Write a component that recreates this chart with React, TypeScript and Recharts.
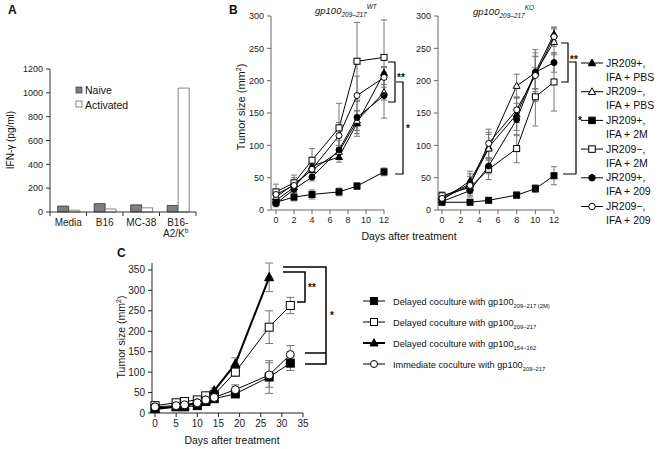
import React from 'react';
import { BarChart, Bar, XAxis, YAxis, LineChart, Line, ErrorBar } from 'recharts';

const FONT = '"Liberation Sans", Arial, Helvetica, sans-serif';

// panel A - IFN-gamma release
const cellTargets = ['Media', 'B16', 'MC-38', 'B16-A2/Kb'];
const naiveIfn = [50, 70, 60, 55];
const activatedIfn = [15, 25, 35, 1040];
const ifnTicks = [0, 200, 400, 600, 800, 1000, 1200];

// panel B - tumor growth, WT and KO hosts
const tumorTicksB = [0, 50, 100, 150, 200, 250, 300];
const dayTicksB = [0, 2, 4, 6, 8, 10, 12];
const wtDays = [0, 2, 4, 7, 9, 12];
const koDays = [0, 3, 5, 8, 10, 12];

const groupLabels = [
  ['JR209+,', 'IFA + PBS'],
  ['JR209\u2212,', 'IFA + PBS'],
  ['JR209+,', 'IFA + 2M'],
  ['JR209\u2212,', 'IFA + 2M'],
  ['JR209+,', 'IFA + 209'],
  ['JR209\u2212,', 'IFA + 209'],
];
const groupShapes = ['tri', 'tri', 'sq', 'sq', 'circ', 'circ'];
const groupFilled = [true, false, true, false, true, false];

const wtPbsPos = [15, 35, 68, 82, 134, 212];
const wtPbsPosErr = [6, 8, 10, 8, 20, 10];
const wtPbsNeg = [20, 40, 62, 90, 138, 182];
const wtPbsNegErr = [8, 10, 8, 10, 15, 12];
const wt2mPos = [12, 20, 24, 28, 37, 59];
const wt2mPosErr = [5, 6, 7, 6, 5, 6];
const wt2mNeg = [28, 42, 77, 127, 230, 236];
const wt2mNegErr = [12, 12, 18, 38, 60, 58];
const wt209Pos = [10, 32, 51, 93, 143, 177];
const wt209PosErr = [5, 8, 6, 15, 25, 35];
const wt209Neg = [24, 38, 63, 115, 177, 205];
const wt209NegErr = [8, 8, 10, 20, 30, 15];

const koPbsPos = [15, 45, 97, 148, 213, 272];
const koPbsPosErr = [5, 15, 20, 25, 30, 10];
const koPbsNeg = [20, 40, 95, 192, 212, 260];
const koPbsNegErr = [6, 12, 25, 18, 25, 20];
const ko2mPos = [12, 12, 15, 23, 33, 53];
const ko2mPosErr = [4, 4, 3, 5, 6, 14];
const ko2mNeg = [22, 35, 63, 95, 175, 198];
const ko2mNegErr = [6, 10, 16, 22, 45, 45];
const ko209Pos = [13, 30, 68, 140, 213, 228];
const ko209PosErr = [5, 8, 12, 25, 25, 15];
const ko209Neg = [18, 38, 103, 155, 208, 268];
const ko209NegErr = [5, 18, 22, 20, 40, 15];

// panel C - delayed vs immediate coculture
const cDays = [0, 5, 7, 10, 12, 14, 19, 27, 32];
const tumorTicksC = [0, 50, 100, 150, 200, 250, 300, 350];
const dayTicksC = [0, 5, 10, 15, 20, 25, 30, 35];
const delayed2m = [13, 15, 15, 18, 28, 35, 47, 88, 122];
const delayed2mErr = [4, 4, 4, 5, 5, 5, 10, 40, 18];
const delayed209 = [18, 25, 28, 32, 42, 45, 100, 210, 263];
const delayed209Err = [5, 5, 5, 5, 5, 5, 10, 40, 20];
const delayed154 = [10, 15, 17, 25, 30, 55, 120, 332, null];
const delayed154Err = [4, 4, 4, 5, 5, 6, 15, 35, null];
const immediate209 = [15, 18, 20, 25, 32, 38, 57, 93, 143];
const immediate209Err = [5, 5, 5, 5, 5, 5, 12, 30, 22];

const cLabels = [
  ['Delayed coculture with gp100', '209\u2013217 (2M)'],
  ['Delayed coculture with gp100', '209\u2013217'],
  ['Delayed coculture with gp100', '154\u2013162'],
  ['Immediate coculture with gp100', '209\u2013217'],
];

type Series = { values: (number | null)[]; errors: (number | null)[]; shape: string; filled: boolean; thick?: boolean };

const wtSeries: Series[] = [
  [wtPbsPos, wtPbsPosErr], [wtPbsNeg, wtPbsNegErr], [wt2mPos, wt2mPosErr],
  [wt2mNeg, wt2mNegErr], [wt209Pos, wt209PosErr], [wt209Neg, wt209NegErr],
].map(([v, e], i) => ({ values: v, errors: e, shape: groupShapes[i], filled: groupFilled[i] }));

const koSeries: Series[] = [
  [koPbsPos, koPbsPosErr], [koPbsNeg, koPbsNegErr], [ko2mPos, ko2mPosErr],
  [ko2mNeg, ko2mNegErr], [ko209Pos, ko209PosErr], [ko209Neg, ko209NegErr],
].map(([v, e], i) => ({ values: v, errors: e, shape: groupShapes[i], filled: groupFilled[i] }));

const cSeries: Series[] = [
  { values: delayed2m, errors: delayed2mErr, shape: 'sq', filled: true },
  { values: delayed209, errors: delayed209Err, shape: 'sq', filled: false },
  { values: delayed154, errors: delayed154Err, shape: 'tri', filled: true, thick: true },
  { values: immediate209, errors: immediate209Err, shape: 'circ', filled: false },
];

function buildRows(days: number[], series: Series[]) {
  return days.map((d, i) => {
    const row: any = { day: d };
    series.forEach((s, k) => {
      if (s.values[i] != null) {
        row['v' + k] = s.values[i];
        row['e' + k] = s.errors[i];
      }
    });
    return row;
  });
}

const barRows = cellTargets.map((t, i) => ({ target: t, naive: naiveIfn[i], activated: activatedIfn[i] }));

function Marker({ cx, cy, shape, filled, size }: any) {
  if (cx == null || cy == null) return null;
  const h = size / 2;
  const fill = filled ? '#000' : '#fff';
  if (shape === 'tri') {
    const pts = `${cx},${cy - h * 1.2} ${cx - h * 1.15},${cy + h * 0.85} ${cx + h * 1.15},${cy + h * 0.85}`;
    return <polygon points={pts} fill={fill} stroke="#000" strokeWidth={1} />;
  }
  if (shape === 'sq') {
    return <rect x={cx - h} y={cy - h} width={size} height={size} fill={fill} stroke="#000" strokeWidth={1} />;
  }
  return <circle cx={cx} cy={cy} r={h} fill={fill} stroke="#000" strokeWidth={1} />;
}

const TargetTick = (props: any) => {
  const { x, y, payload, index } = props;
  const half = payload && payload.offset ? payload.offset : 18.25;
  const v = String(payload.value);
  return (
    <g>
      <line x1={x - half} x2={x - half} y1={y} y2={y + 4} stroke="#333" />
      {index === cellTargets.length - 1 && <line x1={x + half} x2={x + half} y1={y} y2={y + 4} stroke="#333" />}
      {v === 'B16-A2/Kb' ? (
        <text x={x} y={y + 14} textAnchor="middle" fontSize={10} fill="#222" fontFamily={FONT}>
          <tspan x={x}>B16-</tspan>
          <tspan x={x - 2} dy={11}>A2/K</tspan>
          <tspan fontSize={6.5} dy={-4}>b</tspan>
        </text>
      ) : (
        <text x={x} y={y + 14} textAnchor="middle" fontSize={10} fill="#222" fontFamily={FONT}>{v}</text>
      )}
    </g>
  );
};

function TumorPanel(p: any) {
  const rows = buildRows(p.days, p.series);
  return (
    <div style={{ position: 'absolute', left: p.left, top: p.top }}>
      <LineChart width={p.width} height={p.height} data={rows} margin={p.margin}>
        <XAxis dataKey="day" type="number" domain={p.xDomain} ticks={p.xTicks} interval={0}
          padding={{ left: p.padLeft, right: 0 }} height={p.xHeight}
          axisLine={{ stroke: p.axisColor }} tickLine={{ stroke: p.axisColor }} tickSize={4} tickMargin={3}
          tick={{ fontSize: p.tickFont, fill: '#222', fontFamily: FONT }} />
        <YAxis type="number" domain={p.yDomain} ticks={p.yTicks} interval={0} width={p.yWidth}
          axisLine={{ stroke: p.axisColor }} tickLine={{ stroke: p.axisColor }} tickSize={4} tickMargin={3}
          tick={{ fontSize: p.tickFont, fill: '#222', fontFamily: FONT }} />
        {p.series.map((s: Series, k: number) => (
          <Line key={k} dataKey={'v' + k} stroke="#000" strokeWidth={s.thick ? 2 : 1}
            isAnimationActive={false} activeDot={false} connectNulls={false}
            dot={(d: any) => <Marker key={'m' + k + '-' + d.index} cx={d.cx} cy={d.cy} shape={s.shape} filled={s.filled} size={p.markerSize} />}>
            <ErrorBar dataKey={'e' + k} width={p.errWidth} stroke={p.errColor} strokeWidth={1} direction="y" />
          </Line>
        ))}
      </LineChart>
    </div>
  );
}

function LegendMark({ x, y, shape, filled, thick, size }: any) {
  return (
    <g>
      <line x1={x - 11} x2={x + 11} y1={y} y2={y} stroke="#000" strokeWidth={thick ? 2 : 1} />
      <Marker cx={x} cy={y} shape={shape} filled={filled} size={size} />
    </g>
  );
}

function Overlay() {
  const t = { fontFamily: FONT, fill: '#111' } as any;
  return (
    <svg width={665} height={449} style={{ position: 'absolute', left: 0, top: 0, pointerEvents: 'none' }}>
      {/* panel letters */}
      <text x={8} y={14} fontSize={12} fontWeight="bold" {...t}>A</text>
      <text x={229} y={14} fontSize={12} fontWeight="bold" {...t}>B</text>
      <text x={117} y={257} fontSize={12} fontWeight="bold" {...t}>C</text>

      {/* panel A */}
      <text transform="translate(14,140) rotate(-90)" textAnchor="middle" fontSize={10} {...t}>IFN-γ (pg/ml)</text>
      <rect x={76} y={87} width={6} height={6} fill="#7f7f7f" stroke="#333" strokeWidth={0.7} />
      <text x={85} y={94} fontSize={10.5} {...t}>Naive</text>
      <rect x={76} y={101} width={6} height={6} fill="#fff" stroke="#555" strokeWidth={0.7} />
      <text x={85} y={109} fontSize={10.5} {...t}>Activated</text>

      {/* panel B titles and axis labels */}
      <text x={315} y={14} fontSize={9.5} fontStyle="italic" {...t}>
        gp100<tspan fontSize={6.5} dy={3}>209–217</tspan><tspan fontSize={6.5} dy={-8}>WT</tspan>
      </text>
      <text x={473} y={15} fontSize={9.5} fontStyle="italic" {...t}>
        gp100<tspan fontSize={6.5} dy={3}>209–217</tspan><tspan fontSize={6.5} dy={-8}>KO</tspan>
      </text>
      <text transform="translate(245,107) rotate(-90)" textAnchor="middle" fontSize={11} {...t}>
        Tumor size (mm<tspan fontSize={7} dy={-4}>2</tspan><tspan dy={4}>)</tspan>
      </text>
      <text x={409} y={240} textAnchor="middle" fontSize={10.5} {...t}>Days after treatment</text>

      {/* panel B brackets */}
      <polyline points="388,62 395,62 395,102 388,102" fill="none" stroke="#000" strokeWidth={1.2} />
      <text x={397} y={81} fontSize={10} fontWeight="bold" {...t}>**</text>
      <polyline points="396,82 403,82 403,174 395,174" fill="none" stroke="#000" strokeWidth={1.2} />
      <text x={406} y={132} fontSize={10} fontWeight="bold" {...t}>*</text>
      <polyline points="561,43 568,43 568,82 561,82" fill="none" stroke="#000" strokeWidth={1.2} />
      <text x={570} y={63} fontSize={10} fontWeight="bold" {...t}>**</text>
      <polyline points="569,62 576,62 576,174 563,174" fill="none" stroke="#000" strokeWidth={1.2} />
      <text x={578} y={124} fontSize={10} fontWeight="bold" {...t}>*</text>

      {/* panel B legend */}
      {groupLabels.map((lab, i) => {
        const y = 63 + i * 28.7;
        return (
          <g key={i}>
            <LegendMark x={592} y={y} shape={groupShapes[i]} filled={groupFilled[i]} size={6.5} />
            <text x={606} y={y + 3.5} fontSize={10.5} {...t}>{lab[0]}</text>
            <text x={606} y={y + 17.5} fontSize={10.5} {...t}>{lab[1]}</text>
          </g>
        );
      })}

      {/* panel C */}
      <text transform="translate(125,337) rotate(-90)" textAnchor="middle" fontSize={10.5} {...t}>
        Tumor size (mm<tspan fontSize={7} dy={-4}>2</tspan><tspan dy={4}>)</tspan>
      </text>
      <text x={232} y={444} textAnchor="middle" fontSize={10.5} {...t}>Days after treatment</text>
      <polyline points="283,267 326,267 326,364 305,364" fill="none" stroke="#000" strokeWidth={1.5} />
      <line x1={305} x2={326} y1={353} y2={353} stroke="#000" strokeWidth={1.5} />
      <polyline points="283,272 305,272 305,302 297,302" fill="none" stroke="#000" strokeWidth={1.5} />
      <text x={308} y={291} fontSize={10} fontWeight="bold" {...t}>**</text>
      <text x={330} y={319} fontSize={10} fontWeight="bold" {...t}>*</text>
      {cLabels.map((lab, i) => {
        const y = 301 + i * 21;
        const s = cSeries[i];
        return (
          <g key={i}>
            <LegendMark x={374} y={y} shape={s.shape} filled={s.filled} thick={s.thick} size={7} />
            <text x={393} y={y + 3.5} fontSize={9.2} {...t}>
              {lab[0]}<tspan fontSize={5.8} dy={3}>{lab[1]}</tspan>
            </text>
          </g>
        );
      })}
    </svg>
  );
}

export default function App() {
  return (
    <div style={{ position: 'fixed', left: 0, top: 0, width: 665, height: 449, background: '#fff', fontFamily: FONT, overflow: 'hidden' }}>
      <div style={{ position: 'absolute', left: 0, top: 0 }}>
        <BarChart width={210} height={250} data={barRows} margin={{ top: 69, right: 14, bottom: 8, left: 0 }}
          barCategoryGap="21%" barGap={0}>
          <XAxis dataKey="target" interval={0} tickLine={false} tickSize={0} tickMargin={0}
            axisLine={{ stroke: '#333' }} height={30} tick={<TargetTick />} />
          <YAxis domain={[0, 1200]} ticks={ifnTicks} interval={0} width={50} tickSize={4} tickMargin={3}
            axisLine={{ stroke: '#333' }} tickLine={{ stroke: '#333' }}
            tick={{ fontSize: 9, fill: '#222', fontFamily: FONT }} />
          <Bar dataKey="naive" fill="#7f7f7f" stroke="#333" strokeWidth={0.8} isAnimationActive={false} />
          <Bar dataKey="activated" fill="#fff" stroke="#666" strokeWidth={0.8} isAnimationActive={false} />
        </BarChart>
      </div>

      <TumorPanel left={220} top={0} width={180} height={240} margin={{ top: 16, right: 16, bottom: 10, left: 0 }}
        yWidth={51} xHeight={20} padLeft={5} days={wtDays} series={wtSeries}
        xDomain={[0, 12]} xTicks={dayTicksB} yDomain={[0, 300]} yTicks={tumorTicksB}
        tickFont={9} axisColor="#666" errColor="#777" errWidth={3} markerSize={6} />

      <TumorPanel left={390} top={0} width={180} height={240} margin={{ top: 16, right: 16, bottom: 10, left: 0 }}
        yWidth={48} xHeight={20} padLeft={4} days={koDays} series={koSeries}
        xDomain={[0, 12]} xTicks={dayTicksB} yDomain={[0, 300]} yTicks={tumorTicksB}
        tickFont={9} axisColor="#666" errColor="#777" errWidth={3} markerSize={6} />

      <TumorPanel left={100} top={240} width={220} height={210} margin={{ top: 23, right: 17, bottom: 12, left: 0 }}
        yWidth={52} xHeight={25} padLeft={3} days={cDays} series={cSeries}
        xDomain={[0, 35]} xTicks={dayTicksC} yDomain={[0, 350]} yTicks={tumorTicksC}
        tickFont={10} axisColor="#222" errColor="#777" errWidth={4} markerSize={8} />

      <Overlay />
    </div>
  );
}
